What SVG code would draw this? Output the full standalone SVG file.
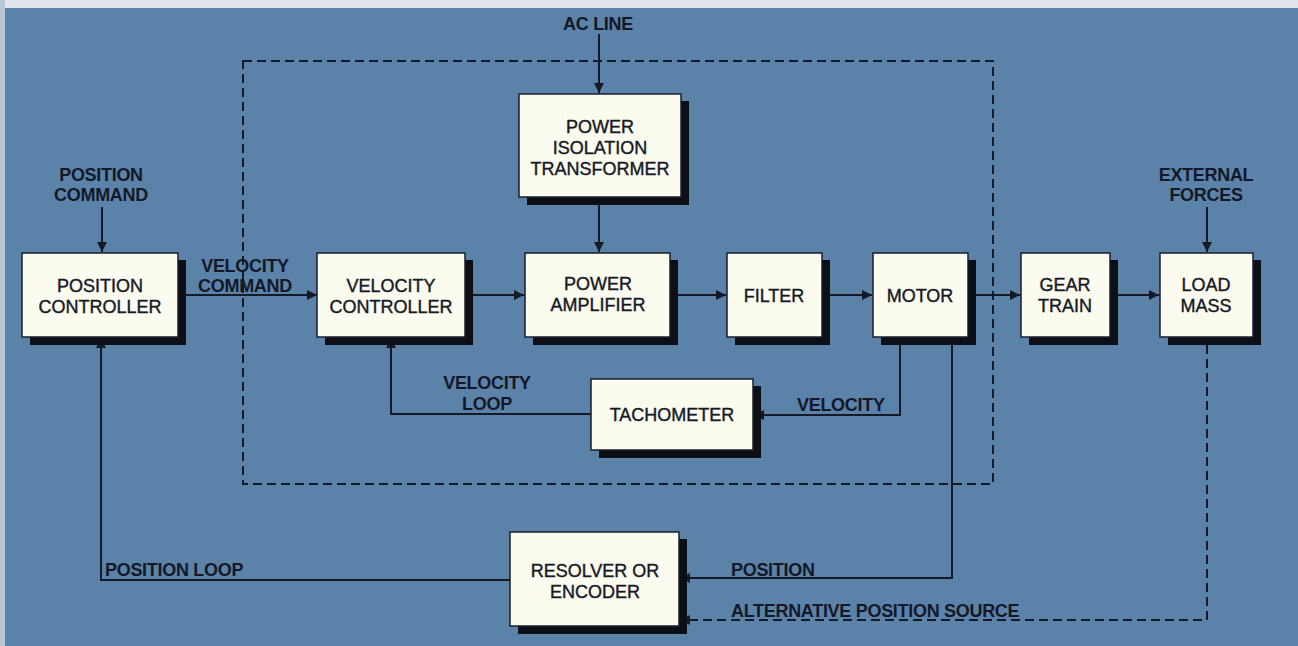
<svg xmlns="http://www.w3.org/2000/svg" width="1298" height="646" viewBox="0 0 1298 646">
<defs>
<marker id="ah" viewBox="0 0 10 10" refX="10" refY="5" markerWidth="10" markerHeight="10" markerUnits="userSpaceOnUse" orient="auto">
<path d="M0,0 L10,5 L0,10 Z" fill="#161a26"/>
</marker>
</defs>
<style>
.bg{fill:#5b82a9}
.sh{fill:#0d0f16}
.bx{fill:#fcfbf0;stroke:#1a1e2a;stroke-width:1.5}
.bt{font-family:"Liberation Sans",Arial,sans-serif;font-size:18px;fill:#161a26;text-anchor:middle;stroke:#161a26;stroke-width:0.4}
.lb{font-family:"Liberation Sans",Arial,sans-serif;font-size:18px;font-weight:bold;fill:#141826;letter-spacing:-0.3px}
.ln{fill:none;stroke:#161a26;stroke-width:2}
.ds{fill:none;stroke:#161a26;stroke-width:2;stroke-dasharray:9 5}
</style>
<rect class="bg" x="0" y="0" width="1298" height="646"/>
<rect x="0" y="0" width="1298" height="8" fill="#dfe5ea"/>
<rect x="0" y="0" width="5" height="646" fill="#b9c7d4"/>

<g id="connectors">
<rect class="ds" x="243" y="61" width="750" height="423"/>
<line class="ln" x1="102" y1="207" x2="102" y2="252" marker-end="url(#ah)"/>
<line class="ln" x1="599" y1="34" x2="599" y2="93" marker-end="url(#ah)"/>
<line class="ln" x1="599" y1="205" x2="599" y2="252" marker-end="url(#ah)"/>
<line class="ln" x1="1207" y1="207" x2="1207" y2="252" marker-end="url(#ah)"/>
<line class="ln" x1="185" y1="295" x2="317" y2="295" marker-end="url(#ah)"/>
<line class="ln" x1="473" y1="295" x2="524" y2="295" marker-end="url(#ah)"/>
<line class="ln" x1="678" y1="295" x2="726" y2="295" marker-end="url(#ah)"/>
<line class="ln" x1="830" y1="295" x2="872" y2="295" marker-end="url(#ah)"/>
<line class="ln" x1="976" y1="295" x2="1020" y2="295" marker-end="url(#ah)"/>
<line class="ln" x1="1118" y1="295" x2="1159" y2="295" marker-end="url(#ah)"/>
<polyline class="ln" points="900,345 900,415 754,415" marker-end="url(#ah)"/>
<polyline class="ln" points="591,414 391,414 391,338" marker-end="url(#ah)"/>
<polyline class="ln" points="952,345 952,578 680,578" marker-end="url(#ah)"/>
<polyline class="ln" points="510,580 101,580 101,338" marker-end="url(#ah)"/>
<polyline class="ds" points="1207,345 1207,620 680,620" marker-end="url(#ah)"/>
</g>

<g id="labels">
<text class="lb" x="101" y="181" text-anchor="middle">POSITION</text>
<text class="lb" x="101" y="201" text-anchor="middle">COMMAND</text>
<text class="lb" x="245" y="272" text-anchor="middle">VELOCITY</text>
<text class="lb" x="245" y="292" text-anchor="middle">COMMAND</text>
<text class="lb" x="598" y="30" text-anchor="middle" font-size="14">AC LINE</text>
<text class="lb" x="1206" y="181" text-anchor="middle">EXTERNAL</text>
<text class="lb" x="1206" y="201" text-anchor="middle">FORCES</text>
<text class="lb" x="487" y="389" text-anchor="middle">VELOCITY</text>
<text class="lb" x="487" y="410" text-anchor="middle">LOOP</text>
<text class="lb" x="797" y="411">VELOCITY</text>
<text class="lb" x="731" y="576">POSITION</text>
<text class="lb" x="105" y="576">POSITION LOOP</text>
<text class="lb" x="731" y="617">ALTERNATIVE POSITION SOURCE</text>
</g>

<g id="position-controller">
<rect class="sh" x="30" y="260" width="156" height="85"/>
<rect class="bx" x="22" y="253" width="156" height="84"/>
<text class="bt" x="100" y="292">POSITION</text>
<text class="bt" x="100" y="313">CONTROLLER</text>
</g>
<g id="velocity-controller">
<rect class="sh" x="325" y="260" width="148" height="85"/>
<rect class="bx" x="317" y="253" width="148" height="84"/>
<text class="bt" x="391" y="292">VELOCITY</text>
<text class="bt" x="391" y="313">CONTROLLER</text>
</g>
<g id="power-isolation-transformer">
<rect class="sh" x="527" y="101" width="162" height="104"/>
<rect class="bx" x="519" y="94" width="162" height="103"/>
<text class="bt" x="600" y="133">POWER</text>
<text class="bt" x="600" y="154">ISOLATION</text>
<text class="bt" x="600" y="175">TRANSFORMER</text>
</g>
<g id="power-amplifier">
<rect class="sh" x="533" y="260" width="145" height="85"/>
<rect class="bx" x="525" y="253" width="145" height="84"/>
<text class="bt" x="598" y="290">POWER</text>
<text class="bt" x="598" y="311">AMPLIFIER</text>
</g>
<g id="filter">
<rect class="sh" x="735" y="260" width="95" height="85"/>
<rect class="bx" x="727" y="253" width="95" height="84"/>
<text class="bt" x="774" y="302">FILTER</text>
</g>
<g id="motor">
<rect class="sh" x="881" y="260" width="95" height="85"/>
<rect class="bx" x="873" y="253" width="95" height="84"/>
<text class="bt" x="920" y="302">MOTOR</text>
</g>
<g id="gear-train">
<rect class="sh" x="1029" y="260" width="89" height="85"/>
<rect class="bx" x="1021" y="253" width="89" height="84"/>
<text class="bt" x="1065" y="291">GEAR</text>
<text class="bt" x="1065" y="312">TRAIN</text>
</g>
<g id="load-mass">
<rect class="sh" x="1168" y="260" width="93" height="85"/>
<rect class="bx" x="1160" y="253" width="93" height="84"/>
<text class="bt" x="1206" y="291">LOAD</text>
<text class="bt" x="1206" y="312">MASS</text>
</g>
<g id="tachometer">
<rect class="sh" x="599" y="386" width="162" height="72"/>
<rect class="bx" x="591" y="379" width="162" height="71"/>
<text class="bt" x="672" y="421">TACHOMETER</text>
</g>
<g id="resolver-encoder">
<rect class="sh" x="518" y="539" width="169" height="95"/>
<rect class="bx" x="510" y="532" width="169" height="94"/>
<text class="bt" x="595" y="577">RESOLVER OR</text>
<text class="bt" x="595" y="598">ENCODER</text>
</g>
</svg>
